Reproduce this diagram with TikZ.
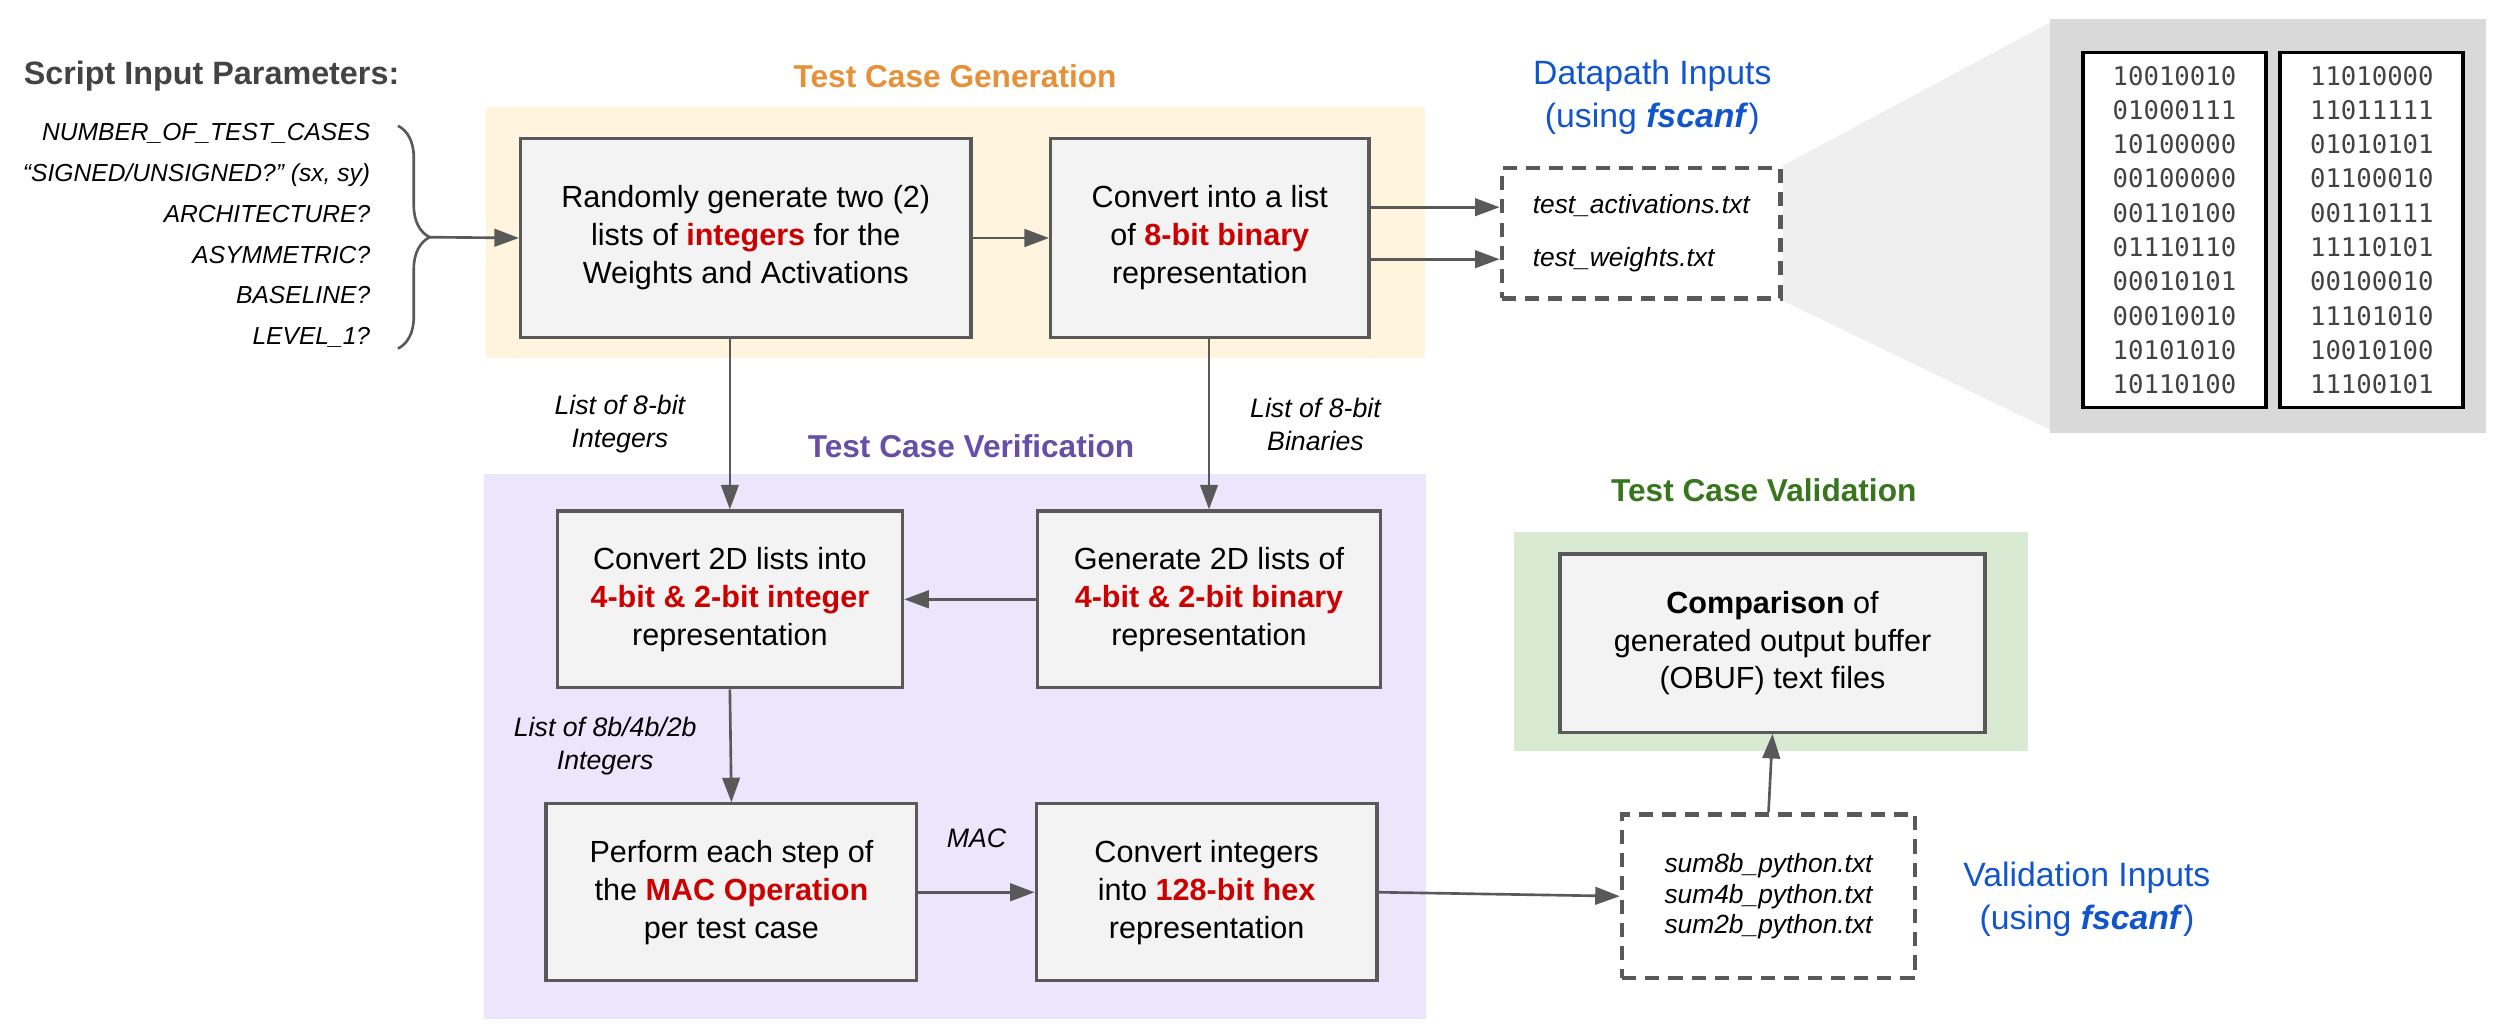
\documentclass[tikz,border=0pt]{standalone}
\usepackage{fontspec}
\setmainfont{Liberation Sans}
\newfontfamily\binfont{DejaVu Sans Mono}
\usetikzlibrary{arrows.meta,decorations.pathreplacing,backgrounds}
\newlength{\gridunit}
\newlength{\boxlinewidth}
\newlength{\flowlinewidth}
\setlength{\gridunit}{0.15918mm}
\setlength{\boxlinewidth}{0.9pt}
\setlength{\flowlinewidth}{0.75pt}
\definecolor{genfill}{RGB}{255,244,221}
\definecolor{verfill}{RGB}{236,230,252}
\definecolor{valfill}{RGB}{217,234,211}
\definecolor{zoomgray}{RGB}{217,217,217}
\definecolor{funnelgray}{RGB}{239,239,239}
\definecolor{boxfill}{RGB}{243,243,243}
\definecolor{boxline}{RGB}{89,89,89}
\definecolor{emphred}{RGB}{204,0,0}
\definecolor{genorange}{RGB}{230,145,56}
\definecolor{verpurple}{RGB}{103,78,167}
\definecolor{valgreen}{RGB}{56,118,29}
\definecolor{inputblue}{RGB}{17,85,204}
\definecolor{titlegray}{RGB}{67,67,67}
\newcommand{\hl}[1]{{\color{emphred}\bfseries #1}}
\newcommand{\boxfont}{\fontsize{8.7}{10.8}\selectfont}
\newcommand{\paramfont}{\fontsize{7}{11.6}\selectfont\itshape}
\newcommand{\labelfont}{\fontsize{7.6}{9.3}\selectfont\itshape}
\newcommand{\headfont}{\fontsize{9}{11}\selectfont\bfseries}
\newcommand{\inputfont}{\fontsize{9.6}{12.2}\selectfont}
\newcommand{\bitfont}{\binfont\fontsize{7.3}{9.75}\selectfont}
\tikzstyle{procbox} = [draw=boxline, fill=boxfill, line width=\boxlinewidth, align=center, font=\boxfont, inner sep=0]
\tikzstyle{filebox} = [draw=boxline, fill=white, line width=1.3pt, dash pattern=on 4pt off 2.6pt, inner sep=0]
\tikzstyle{bitpanel} = [draw=black, fill=white, line width=1.1pt, align=center, font=\bitfont, text=titlegray, minimum width=115*\gridunit, minimum height=223*\gridunit, inner sep=0]
\tikzstyle{flow} = [->, draw=boxline, line width=\flowlinewidth]
\tikzstyle{edgelabel} = [font=\labelfont, align=center]

\begin{document}
\begin{tikzpicture}[
		x=\gridunit, y=-\gridunit,
		>={Triangle[length=7pt,width=5pt]}
		]
		\useasboundingbox (0,0) rectangle (1568,646);
		
		% stage backgrounds
		\fill[genfill] (305,67) rectangle (895,225);
		\fill[verfill] (304,298) rectangle (896,640);
		\fill[valfill] (951,334) rectangle (1274,472);
		\fill[zoomgray] (1288,12) rectangle (1562,272);
		
		\node[anchor=west, inner sep=0, font=\fontsize{9.2}{11}\selectfont\bfseries, text=titlegray] (paramtitle) at (14.5,48) {Script Input Parameters:};
		\node[anchor=east, align=right, font=\paramfont, inner sep=0] (params) at (233,148) {NUMBER\_OF\_TEST\_CASES\\“SIGNED/UNSIGNED?” (sx, sy)\\ARCHITECTURE?\\ASYMMETRIC?\\BASELINE?\\LEVEL\_1?};
		\draw[boxline, line width=\flowlinewidth, decorate, decoration={brace, amplitude=9pt}] (250,79) -- (250,219);
		\coordinate (bracetip) at (270,149);
		
		\node[font=\headfont, text=genorange] (gentitle) at (600,48) {Test Case Generation};
		\node[font=\headfont, text=verpurple] (vertitle) at (610,280) {Test Case Verification};
		\node[font=\headfont, text=valgreen] (valtitle) at (1108,308) {Test Case Validation};
		
		\node[procbox, minimum width=283*\gridunit, minimum height=125*\gridunit] (randgen) at (468.5,149.5) {Randomly generate two (2)\\lists of \hl{integers} for the\\Weights and Activations};
		\node[procbox, minimum width=200*\gridunit, minimum height=125*\gridunit] (binlist) at (760,149.5) {Convert into a list\\of \hl{8-bit binary}\\representation};
		\node[procbox, minimum width=217*\gridunit, minimum height=111*\gridunit] (convint) at (458.5,376.5) {Convert 2D lists into\\\hl{4-bit \& 2-bit integer}\\representation};
		\node[procbox, minimum width=215*\gridunit, minimum height=111*\gridunit] (genbin) at (759.5,376.5) {Generate 2D lists of\\\hl{4-bit \& 2-bit binary}\\representation};
		\node[procbox, minimum width=233*\gridunit, minimum height=111*\gridunit] (macop) at (459.5,560.5) {Perform each step of\\the \hl{MAC Operation}\\per test case};
		\node[procbox, minimum width=214*\gridunit, minimum height=111*\gridunit] (mac2hex) at (758,560.5) {Convert integers\\into \hl{128-bit hex}\\representation};
		\node[procbox, minimum width=267*\gridunit, minimum height=112*\gridunit] (compare) at (1113.5,404) {\textbf{Comparison} of\\generated output buffer\\(OBUF) text files};
		
		\node[filebox, minimum width=175*\gridunit, minimum height=82*\gridunit, align=left, font=\fontsize{7.5}{14.9}\selectfont\itshape] (datain) at (1031,146.5) {test\_activations.txt\\test\_weights.txt};
		\node[filebox, minimum width=184*\gridunit, minimum height=103*\gridunit, align=center, font=\fontsize{7.5}{8.8}\selectfont\itshape] (valin) at (1111,563) {sum8b\_python.txt\\sum4b\_python.txt\\sum2b\_python.txt};
		\node[align=center, font=\inputfont, text=inputblue] (datatitle) at (1038,61) {Datapath Inputs\\(using \textbf{\textit{fscanf}})};
		\node[align=center, font=\inputfont, text=inputblue] (valintitle) at (1311,565) {Validation Inputs\\(using \textbf{\textit{fscanf}})};
		
		% zoomed view of the input files
		\begin{scope}[on background layer]
			\fill[funnelgray] (datain.north east) -- (1288,14) -- (1288,270) -- (datain.south east) -- cycle;
		\end{scope}
		\node[bitpanel] (actpanel) at (1366,144.5) {10010010\\01000111\\10100000\\00100000\\00110100\\01110110\\00010101\\00010010\\10101010\\10110100};
		\node[bitpanel] (wgtpanel) at (1490,144.5) {11010000\\11011111\\01010101\\01100010\\00110111\\11110101\\00100010\\11101010\\10010100\\11100101};
		
		\draw[flow] (bracetip) -- (randgen.west);
		\draw[flow] (randgen.east) -- (binlist.west);
		\draw[flow] ([yshift=7.4pt]datain.west -| binlist.east) -- ([yshift=7.4pt]datain.west);
		\draw[flow] ([yshift=-7.4pt]datain.west -| binlist.east) -- ([yshift=-7.4pt]datain.west);
		\draw[flow] (randgen.south -| convint.north) -- node[edgelabel, left=9pt] {List of 8-bit\\Integers} (convint.north);
		\draw[flow] (binlist.south -| genbin.north) -- node[edgelabel, right=8pt] {List of 8-bit\\Binaries} (genbin.north);
		\draw[flow] (genbin.west) -- (convint.east);
		\draw[flow] (convint.south) -- node[edgelabel, left=6pt] {List of 8b/4b/2b\\Integers} (macop.north);
		\draw[flow] (macop.east) -- node[edgelabel, above=9pt] {MAC} (mac2hex.west);
		\draw[flow] (mac2hex.east) -- (valin.west);
		\draw[flow] (valin.north) -- (compare.south);
		
	\end{tikzpicture}
\end{document}
